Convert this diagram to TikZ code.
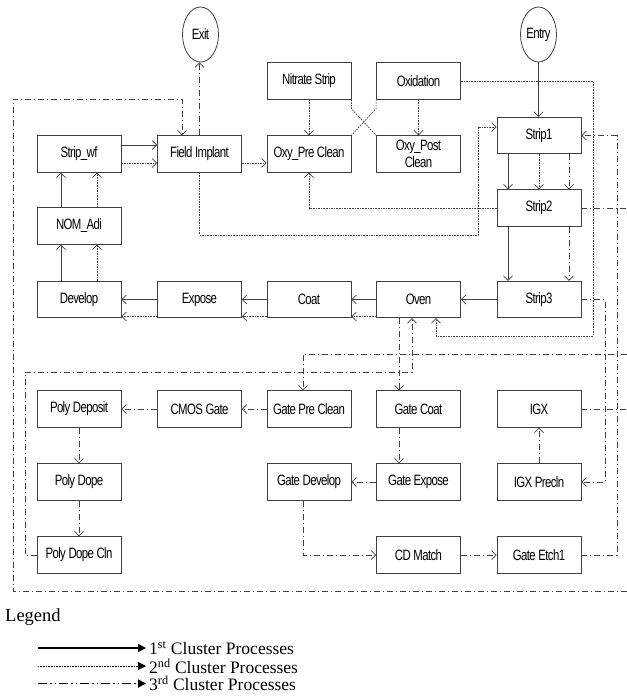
\documentclass[tikz,border=0pt]{standalone}
\usepackage{fontspec}
\setmainfont{Liberation Serif}
\newfontfamily\boxfont[FakeStretch=0.76,LetterSpace=-4]{Liberation Sans}
\usetikzlibrary{arrows.meta,shapes.geometric}
\begin{document}
\begin{tikzpicture}[x=1pt,y=-1pt,
  box/.style={draw=black!75, line width=0.8pt, minimum width=84pt, minimum height=36.5pt,
    inner sep=0pt, align=center, font=\boxfont\fontsize{15}{15}\selectfont, text=black},
  term/.style={ellipse, draw=black!75, line width=0.8pt, minimum width=36pt, minimum height=55pt,
    inner sep=0pt, font=\boxfont\fontsize{15}{15}\selectfont},
  conn/.style={draw=black!75, line width=0.7pt},
  tip/.style={-{Straight Barb[length=4.5pt,width=9pt]}},
  c1/.style={conn, tip},
  c2/.style={conn, tip, dash pattern=on 1.6pt off 1pt},
  c3/.style={conn, tip, dash pattern=on 6pt off 3pt on 1pt off 3pt},
  c2line/.style={conn, dash pattern=on 1.6pt off 1pt},
  c3line/.style={conn, dash pattern=on 6pt off 3pt on 1pt off 3pt},
  legtip/.style={-{Triangle[length=8pt,width=8pt]}},
  legtext/.style={anchor=west, inner sep=0pt, font=\fontsize{17.5}{18}\selectfont}
]
\useasboundingbox (0,0) rectangle (627,697);

% terminals
\node[term] (exit)  at (200.5,34.5) {Exit};
\node[term] (entry) at (538.5,34.5) {Entry};

% upper cluster
\node[box] (nitrate) at (309,81)    {Nitrate Strip};
\node[box] (oxid)    at (418.5,81)  {Oxidation};
\node[box] (stripwf) at (79,154)    {Strip\_wf};
\node[box] (fi)      at (199.5,154) {Field Implant};
\node[box] (oxypre)  at (309,154)   {Oxy\_Pre Clean};
\node[box, font=\boxfont\fontsize{15}{16.5}\selectfont] (oxypost) at (418.5,154) {Oxy\_Post\\Clean};
\node[box] (strip1)  at (539,135.5) {Strip1};
\node[box] (strip2)  at (539,208)   {Strip2};
\node[box] (nom)     at (79,226)    {NOM\_Adi};
\node[box] (develop) at (79,299.5)  {Develop};
\node[box] (expose)  at (199.5,299.5) {Expose};
\node[box] (coat)    at (309,299.5) {Coat};
\node[box] (oven)    at (418.5,299.5) {Oven};
\node[box] (strip3)  at (539,299.5) {Strip3};

% lower cluster
\node[box] (pdep)  at (79,409)    {Poly Deposit};
\node[box] (cmos)  at (199.5,409) {CMOS Gate};
\node[box] (gpre)  at (309,409)   {Gate Pre Clean};
\node[box] (gcoat) at (418.5,409) {Gate Coat};
\node[box] (igx)   at (539,409)   {IGX};
\node[box] (pdope) at (79,482)    {Poly Dope};
\node[box] (gdev)  at (309,482)   {Gate Develop};
\node[box] (gexp)  at (418.5,482) {Gate Expose};
\node[box] (igxp)  at (539,482)   {IGX Precln};
\node[box] (pdc)   at (79,555)    {Poly Dope Cln};
\node[box] (cdm)   at (418.5,555) {CD Match};
\node[box] (getch) at (539,555)   {Gate Etch1};

% off-picture ends
\coordinate (offA) at (627,208);
\coordinate (offB) at (627,409);
\coordinate (offC) at (627,354);
\coordinate (offD) at (627,591);

% ---------- 1st cluster (solid)
\draw[c1] (entry.south) -- (entry.south |- strip1.north);
\draw[c1] ([xshift=-31pt]strip1.south) -- ([xshift=-31pt]strip2.north);
\draw[c1] ([xshift=-31pt]strip2.south) -- ([xshift=-31pt]strip3.north);
\draw[c1] (strip3.west) -- (oven.east);
\draw[c1] (oven.west) -- (coat.east);
\draw[c1] (coat.west) -- (expose.east);
\draw[c1] (expose.west) -- (develop.east);
\draw[c1] ([xshift=-18pt]develop.north) -- ([xshift=-18pt]nom.south);
\draw[c1] ([xshift=-18pt]nom.north) -- ([xshift=-18pt]stripwf.south);
\draw[c1] ([yshift=9pt]stripwf.east) -- ([yshift=9pt]fi.west);

% ---------- 2nd cluster (dotted)
\draw[c2] (strip1.south) -- (strip2.north);
\draw[c2] ([yshift=-17pt]oven.west) -- ([yshift=-17pt]coat.east);
\draw[c2] ([yshift=-17pt]coat.west) -- ([yshift=-17pt]expose.east);
\draw[c2] ([yshift=-17pt]expose.west) -- ([yshift=-17pt]develop.east);
\draw[c2] ([xshift=18pt]develop.north) -- ([xshift=18pt]nom.south);
\draw[c2] ([xshift=18pt]nom.north) -- ([xshift=18pt]stripwf.south);
\draw[c2] ([yshift=-9pt]stripwf.east) -- ([yshift=-9pt]fi.west);
\draw[c2] ([yshift=-9pt]fi.east) -- ([yshift=-9pt]oxypre.west);
\draw[c2] (nitrate.south) -- (oxypre.north);
\draw[c2] (oxid.south) -- (oxypost.north);
\draw[c2] (strip2.west) -| (oxypre.south);
\draw[c2] (fi.south) |- (478,235) |- ([yshift=8.5pt]strip1.west);
\draw[c2] (oxid.east) -| (593,336) -| ([xshift=17.5pt]oven.south);
\draw[c2line] (nitrate.south east) -- ++(0,9) -- (oxypost.north west);
\draw[c2line] (oxid.south west) -- ++(0,9) -- (oxypre.north east);

% ---------- 3rd cluster (dash-dot)
\draw[c3] (fi.north) -- (fi.north |- exit.south);
\draw[c3] ([xshift=30pt]strip1.south) -- ([xshift=30pt]strip2.north);
\draw[c3] ([xshift=30pt]strip2.south) -- ([xshift=30pt]strip3.north);
\draw[c3line] (strip2.east) -- (offA);
\draw[c3line] (igx.east) -- (offB);
\draw[c3] (strip3.east) -- (605,299.5) |- (igxp.east);
\draw[c3] (getch.east) -- (617,555) |- (strip1.east);
\draw[c3] (igxp.north) -- (igx.south);
\draw[c3] (offC) -| ([xshift=-6pt]gpre.north);
\draw[c3] ([xshift=-19.5pt]oven.south) -- ([xshift=-19.5pt]gcoat.north);
\draw[c3] (pdc.west) -| (25,372) -| ([xshift=-6.5pt]oven.south);
\draw[c3] (offD) -| (13,99) -| ([xshift=-17.5pt]fi.north);
\draw[c3] (gpre.west) -- (cmos.east);
\draw[c3] (cmos.west) -- (pdep.east);
\draw[c3] (pdep.south) -- (pdope.north);
\draw[c3] (pdope.south) -- (pdc.north);
\draw[c3] ([xshift=-19.5pt]gcoat.south) -- ([xshift=-19.5pt]gexp.north);
\draw[c3] (gexp.west) -- (gdev.east);
\draw[c3] ([xshift=-6pt]gdev.south) |- (cdm.west);
\draw[c3] (cdm.east) -- (getch.west);

% ---------- legend
\node[anchor=west, inner sep=0pt, font=\fontsize{18.5}{19}\selectfont] (legend) at (5,617) {Legend};
\node[legtext] (l1) at (149,648) {1\textsuperscript{st} Cluster Processes};
\node[legtext] (l2) at (149,666) {2\textsuperscript{nd} Cluster Processes};
\node[legtext] (l3) at (149,683.5) {3\textsuperscript{rd} Cluster Processes};
\coordinate (s1) at (38,648);
\coordinate (s2) at (38,666);
\coordinate (s3) at (38,683.5);
\draw[black, line width=1.8pt, legtip] (s1) -- ([xshift=-3pt]s1 -| l1.west);
\draw[black, line width=0.8pt, legtip, dash pattern=on 0.8pt off 0.8pt] (s2) -- ([xshift=-3pt]s2 -| l2.west);
\draw[black, line width=1.8pt, legtip, dash pattern=on 9pt off 3pt on 1.5pt off 3pt on 1.5pt off 3pt] (s3) -- ([xshift=-3pt]s3 -| l3.west);
\end{tikzpicture}
\end{document}
